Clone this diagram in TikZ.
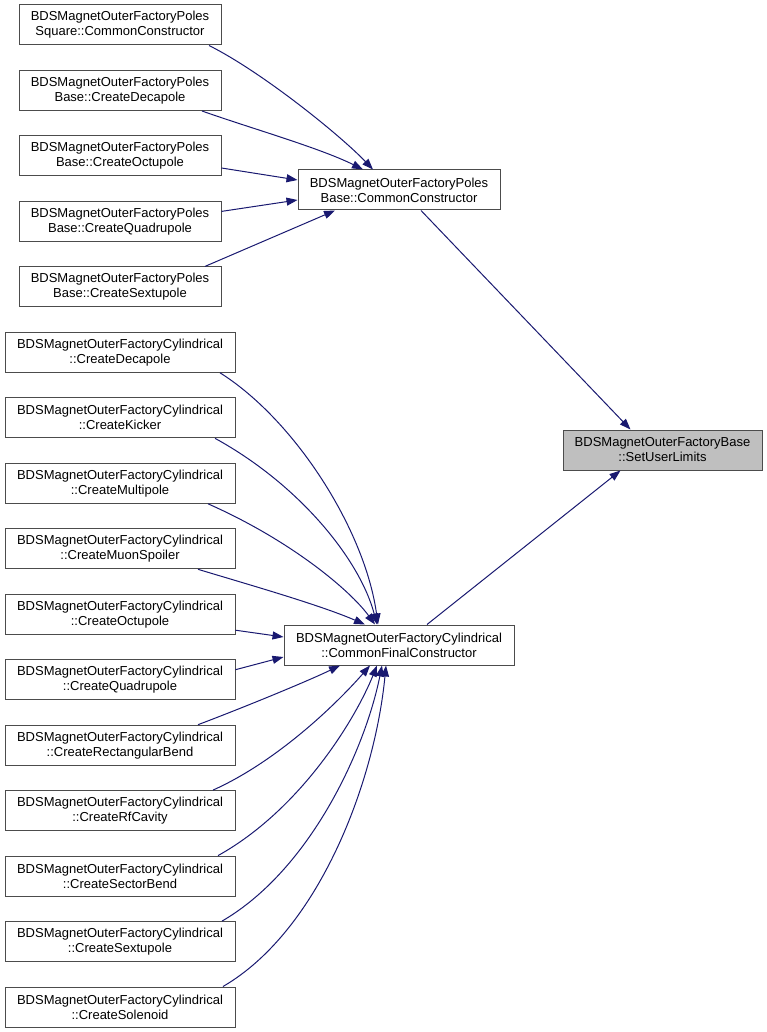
\documentclass[tikz,border=0pt]{standalone}
\usepackage{fontspec}
\setmainfont{Liberation Sans}
\usetikzlibrary{arrows.meta}
\definecolor{edgecol}{HTML}{191970}
\definecolor{selfill}{HTML}{BFBFBF}
\begin{document}
\begin{tikzpicture}[x=1pt,y=-1pt,
  box/.style={draw=black!70, line width=1pt, fill=white, minimum height=40pt, inner sep=0pt, align=center, font=\fontsize{13}{15}\selectfont},
  pbox/.style={box, minimum width=202pt},
  cbox/.style={box, minimum width=230pt},
  edge/.style={draw=edgecol, line width=1pt, -{Triangle[length=11pt,width=8pt]}}]
\useasboundingbox (0,0) rectangle (767,1032);
% Poles column
\node[pbox] (sq)   at (120,25)    {BDSMagnetOuterFactoryPoles\\Square::CommonConstructor};
\node[pbox] (pdec) at (120,90.5)  {BDSMagnetOuterFactoryPoles\\Base::CreateDecapole};
\node[pbox] (poct) at (120,156)   {BDSMagnetOuterFactoryPoles\\Base::CreateOctupole};
\node[pbox] (pquad) at (120,221.4) {BDSMagnetOuterFactoryPoles\\Base::CreateQuadrupole};
\node[pbox] (psext) at (120,286.9) {BDSMagnetOuterFactoryPoles\\Base::CreateSextupole};
% Cylindrical column
\node[cbox] (c1)  at (120,352.3) {BDSMagnetOuterFactoryCylindrical\\::CreateDecapole};
\node[cbox] (c2)  at (120,417.8) {BDSMagnetOuterFactoryCylindrical\\::CreateKicker};
\node[cbox] (c3)  at (120,483.3) {BDSMagnetOuterFactoryCylindrical\\::CreateMultipole};
\node[cbox] (c4)  at (120,548.8) {BDSMagnetOuterFactoryCylindrical\\::CreateMuonSpoiler};
\node[cbox] (c5)  at (120,614.2) {BDSMagnetOuterFactoryCylindrical\\::CreateOctupole};
\node[cbox] (c6)  at (120,679.7) {BDSMagnetOuterFactoryCylindrical\\::CreateQuadrupole};
\node[cbox] (c7)  at (120,745.2) {BDSMagnetOuterFactoryCylindrical\\::CreateRectangularBend};
\node[cbox] (c8)  at (120,810.6) {BDSMagnetOuterFactoryCylindrical\\::CreateRfCavity};
\node[cbox] (c9)  at (120,876.1) {BDSMagnetOuterFactoryCylindrical\\::CreateSectorBend};
\node[cbox] (c10) at (120,941.6) {BDSMagnetOuterFactoryCylindrical\\::CreateSextupole};
\node[cbox] (c11) at (120,1007)  {BDSMagnetOuterFactoryCylindrical\\::CreateSolenoid};
% middle and right
\node[pbox] (cc)  at (399,190) {BDSMagnetOuterFactoryPoles\\Base::CommonConstructor};
\node[box, minimum width=230pt] (cfc) at (399,645) {BDSMagnetOuterFactoryCylindrical\\::CommonFinalConstructor};
\node[box, minimum width=199pt, fill=selfill] (sul) at (662.5,450) {BDSMagnetOuterFactoryBase\\::SetUserLimits};
% edges to CommonConstructor
\draw[edge] ([xshift=89pt]sq.south) .. controls (262,72) and (340,135) .. ([xshift=-26pt]cc.north);
\draw[edge] ([xshift=82pt]pdec.south) .. controls (250,128) and (320,148) .. ([xshift=-36pt]cc.north);
\draw[edge] ([yshift=-12pt]poct.east) -- ([yshift=10pt]cc.west);
\draw[edge] ([yshift=10pt]pquad.east) -- ([yshift=-10pt]cc.west);
\draw[edge] ([xshift=85pt]psext.north) -- ([xshift=-64pt]cc.south);
% to SetUserLimits
\draw[edge] ([xshift=22pt]cc.south) -- ([xshift=-32pt]sul.north);
\draw[edge] ([xshift=28pt]cfc.north) -- ([xshift=-42pt]sul.south);
% edges to CommonFinalConstructor
\draw[edge] ([xshift=100pt]c1.south) .. controls (295,420) and (365,530) .. ([xshift=-21pt]cfc.north);
\draw[edge] ([xshift=95pt]c2.south) .. controls (300,485) and (360,560) .. ([xshift=-22pt]cfc.north);
\draw[edge] ([xshift=88pt]c3.south) .. controls (290,540) and (350,590) .. ([xshift=-24pt]cfc.north);
\draw[edge] ([xshift=78pt]c4.south) .. controls (250,585) and (320,605) .. ([xshift=-34pt]cfc.north);
\draw[edge] ([yshift=-16pt]c5.east) -- ([yshift=8pt]cfc.west);
\draw[edge] ([yshift=10pt]c6.east) -- ([yshift=-12pt]cfc.west);
\draw[edge] ([xshift=78pt]c7.north) .. controls (250,705) and (310,680) .. ([xshift=-59pt]cfc.south);
\draw[edge] ([xshift=93pt]c8.north) .. controls (280,760) and (340,700) .. ([xshift=-29pt]cfc.south);
\draw[edge] ([xshift=98pt]c9.north) .. controls (300,810) and (355,720) .. ([xshift=-22pt]cfc.south);
\draw[edge] ([xshift=102pt]c10.north) .. controls (310,870) and (365,750) .. ([xshift=-17pt]cfc.south);
\draw[edge] ([xshift=103pt]c11.north) .. controls (320,930) and (375,780) .. ([xshift=-13pt]cfc.south);
\end{tikzpicture}
\end{document}
